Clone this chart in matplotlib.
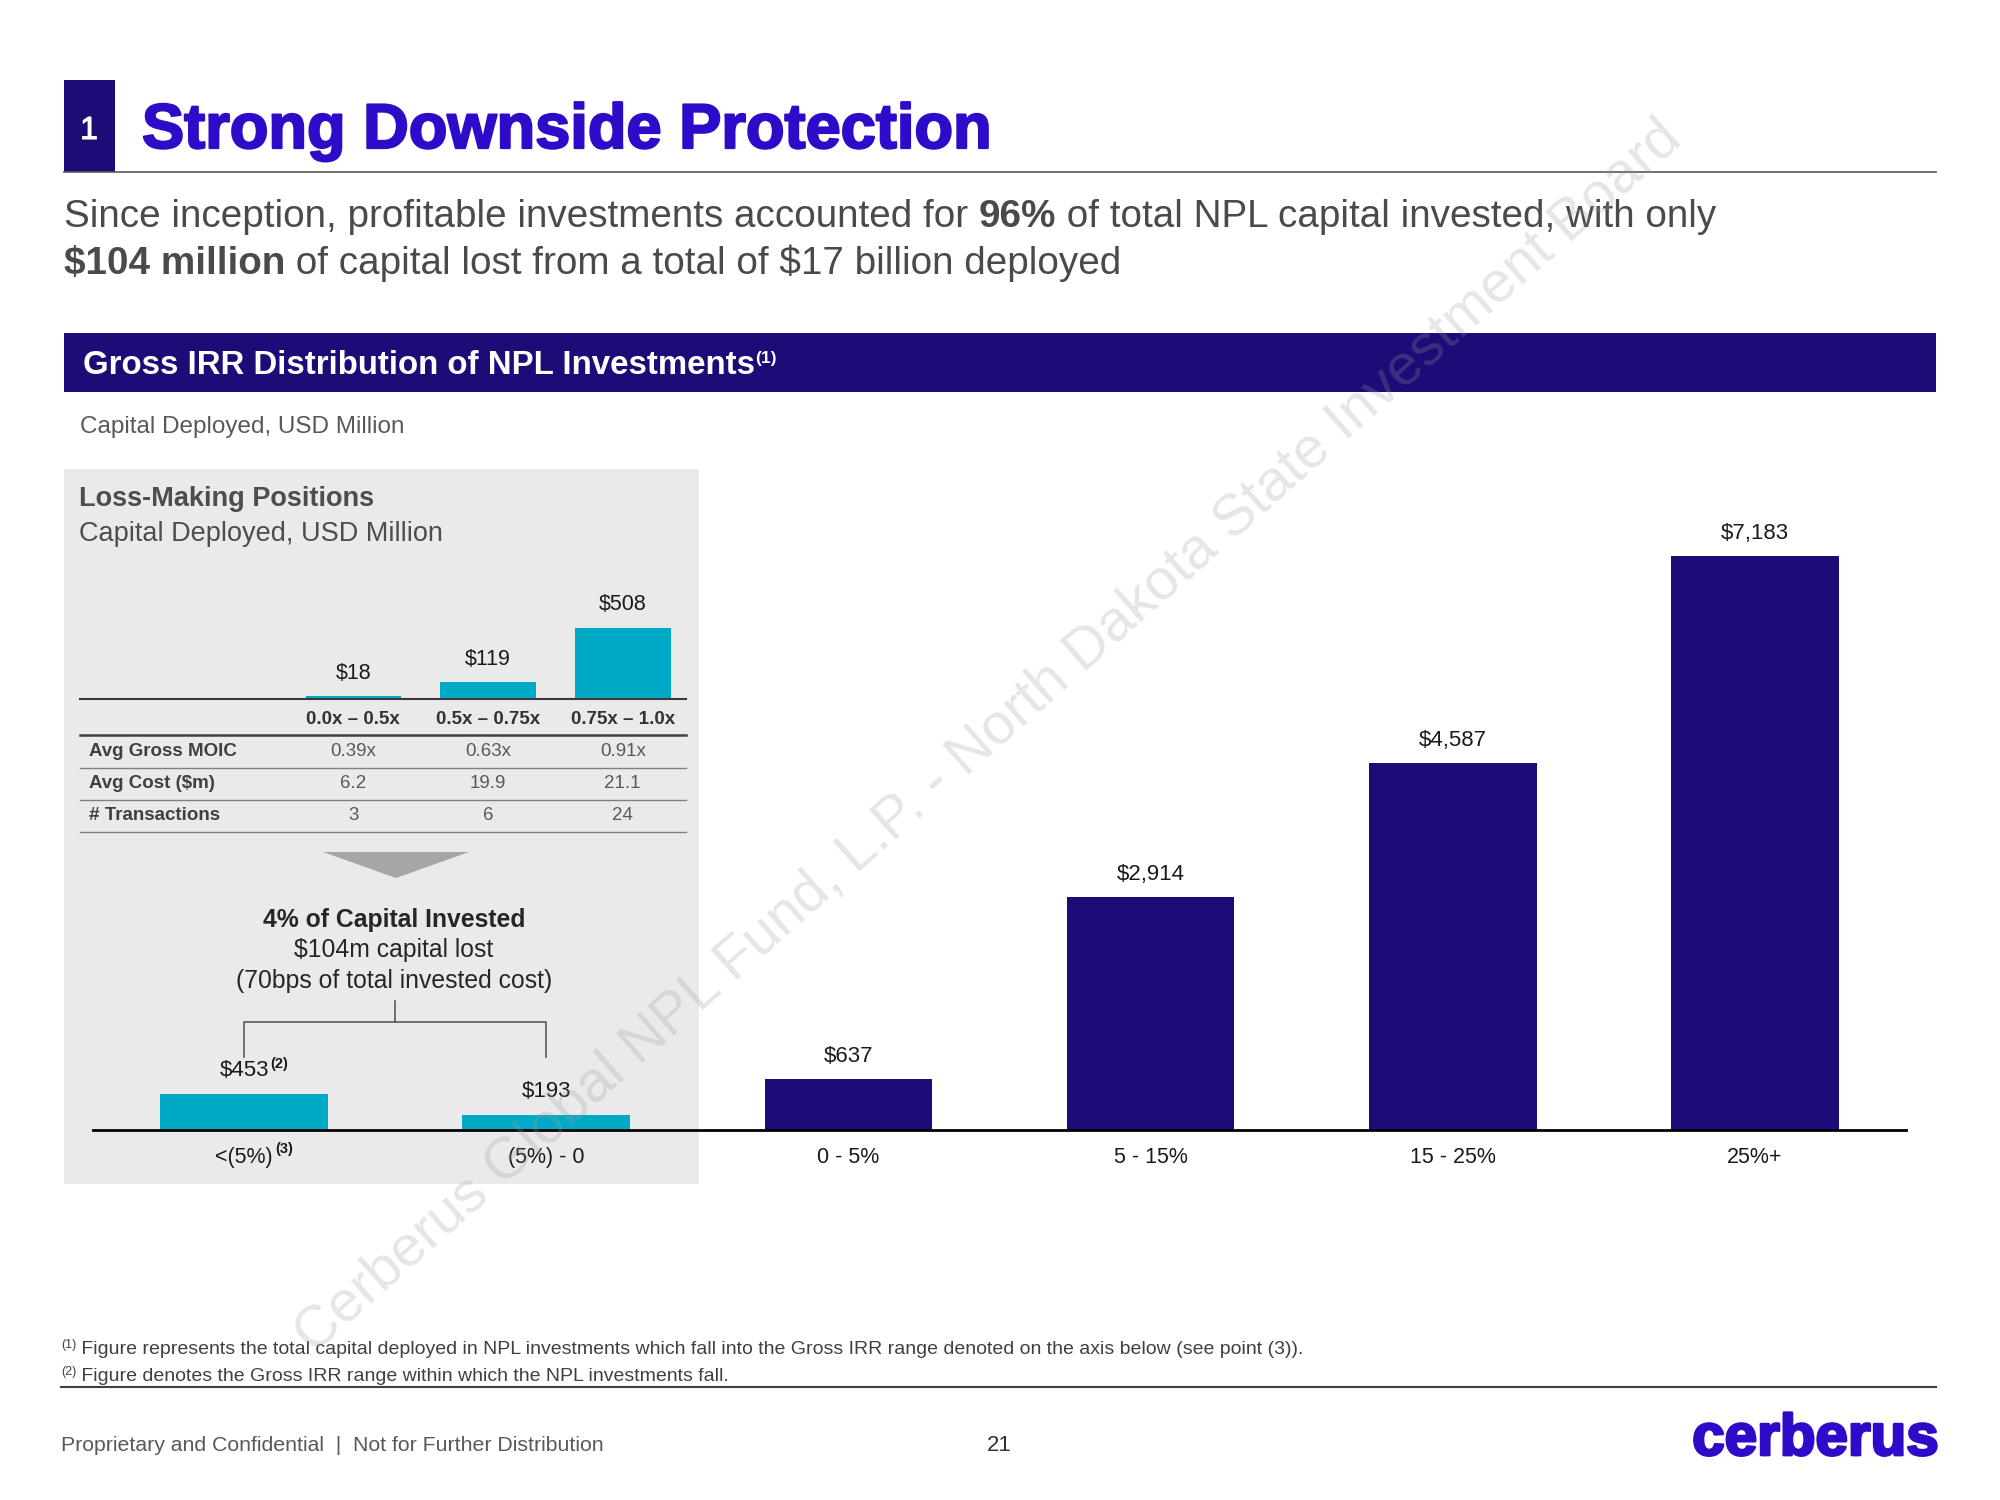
import matplotlib.pyplot as plt
import matplotlib.patheffects as pe
from matplotlib.patches import Rectangle, Polygon
from matplotlib.transforms import blended_transform_factory

plt.rcParams['font.family'] = ['Liberation Sans', 'DejaVu Sans']

NAVY = '#1B0C77'
BLUE = '#2E0BC9'
CYAN = '#00AAC6'
BOX = '#EAEAEA'
TXT = '#4A4A4A'

# main chart: capital deployed by gross IRR bucket (USD m)
irr_bins = ['<(5%)', '(5%) - 0', '0 - 5%', '5 - 15%', '15 - 25%', '25%+']
irr_capital = [453, 193, 637, 2914, 4587, 7183]
irr_is_loss = [True, True, False, False, False, False]

# inset: loss-making positions by MOIC bucket
moic_bins = ['0.0x – 0.5x', '0.5x – 0.75x', '0.75x – 1.0x']
moic_capital = [18, 119, 508]
row_labels = ['Avg Gross MOIC', 'Avg Cost ($m)', '# Transactions']
avg_moic = ['0.39x', '0.63x', '0.91x']
avg_cost = ['6.2', '19.9', '21.1']
n_trans = ['3', '6', '24']
table_rows = [avg_moic, avg_cost, n_trans]

fig = plt.figure(figsize=(20, 15), dpi=100)
bg = fig.add_axes([0, 0, 1, 1])
bg.set_xlim(0, 2000)
bg.set_ylim(1500, 0)
bg.axis('off')
R = fig.canvas.get_renderer()


def text_width(s, **kw):
    t1 = bg.text(0, 0, s + '|', parse_math=False, **kw)
    t2 = bg.text(0, 0, '|', parse_math=False, **kw)
    w = t1.get_window_extent(R).width - t2.get_window_extent(R).width
    t1.remove()
    t2.remove()
    return w


def put_runs(x, y, parts, color, base_size):
    # parts: (text, weight, size, raise_px)
    for txt, weight, size, dy in parts:
        kw = dict(fontsize=size or base_size, fontweight=weight, color=color)
        bg.text(x, y - dy, txt, va='baseline', ha='left', parse_math=False, **kw)
        x += text_width(txt, **kw)


# ---- header ----
bg.add_patch(Rectangle((64, 80), 51, 92, color=NAVY, lw=0))
bg.text(89, 139, '1', color='white', fontsize=23, ha='center', va='baseline',
        path_effects=[pe.withStroke(linewidth=0.8, foreground='white')])
bg.text(142, 148, 'Strong Downside Protection', color=BLUE, fontsize=45.5,
        fontweight='bold', va='baseline',
        path_effects=[pe.withStroke(linewidth=1.6, foreground=BLUE)])
bg.plot([64, 1936], [172, 172], color='#595959', lw=1.2)

put_runs(64, 227, [('Since inception, profitable investments accounted for ', 'normal', None, 0),
                   ('96%', 'bold', None, 0),
                   (' of total NPL capital invested, with only', 'normal', None, 0)], TXT, 27.8)
put_runs(64, 274, [('$104 million', 'bold', None, 0),
                   (' of capital lost from a total of $17 billion deployed', 'normal', None, 0)], TXT, 27.8)

bg.add_patch(Rectangle((64, 333), 1872, 59, color=NAVY, lw=0))
put_runs(83, 374, [('Gross IRR Distribution of NPL Investments', 'bold', None, 0),
                   ('(1)', 'bold', 12.5, 11)], 'white', 23.8)
bg.text(80, 433, 'Capital Deployed, USD Million', fontsize=17.5, color='#595959', va='baseline')

# ---- grey loss box ----
bg.add_patch(Rectangle((64, 469), 635, 715, color=BOX, lw=0))
bg.text(79, 506, 'Loss-Making Positions', fontsize=19.5, fontweight='bold', color='#4D4D4D',
        va='baseline')
bg.text(79, 541, 'Capital Deployed, USD Million', fontsize=19.5, color='#4D4D4D', va='baseline')

# ---- main chart ----
ax = fig.add_axes([93 / 2000, 370 / 1500, 1813 / 2000, 660 / 1500])
ax.set_facecolor('none')
xs = list(range(len(irr_bins)))
bars = ax.bar(xs, irr_capital, width=0.555,
              color=[CYAN if l else NAVY for l in irr_is_loss], zorder=2)
ax.set_xlim(-0.5, 5.5)
ax.set_ylim(0, 8260)
for s in ['top', 'right', 'left']:
    ax.spines[s].set_visible(False)
ax.spines['bottom'].set_color('black')
ax.spines['bottom'].set_linewidth(2)
ax.set_yticks([])
ax.set_xticks(xs, irr_bins, fontsize=15.5, color='#1A1A1A')
ax.tick_params(axis='x', length=0, pad=12)
ax.bar_label(bars, labels=[f'${v:,}' for v in irr_capital], padding=9,
             fontsize=16, color='#1A1A1A')
ax.annotate('(2)', xy=(0, irr_capital[0]), xytext=(26, 23), textcoords='offset pixels',
            fontsize=10.5, fontweight='bold', color='#1A1A1A', ha='left', va='bottom')
ax.annotate('(3)', xy=(0, 0), xytext=(31, -19), textcoords='offset pixels',
            fontsize=10.5, fontweight='bold', color='#1A1A1A', ha='left', va='center')

# ---- inset chart ----
ax_in = fig.add_axes([80 / 2000, 801 / 1500, 606 / 2000, 150 / 1500])
ax_in.set_facecolor('none')
mx = list(range(len(moic_bins)))
ibars = ax_in.bar(mx, moic_capital, width=0.71, color=CYAN)
ax_in.set_xlim(-2.03, 2.47)
ax_in.set_ylim(0, 1073)
for s in ['top', 'right', 'left']:
    ax_in.spines[s].set_visible(False)
ax_in.spines['bottom'].set_color('#3A3A3A')
ax_in.spines['bottom'].set_linewidth(1.5)
ax_in.set_xticks([])
ax_in.set_yticks([])
ax_in.bar_label(ibars, labels=[f'${v}' for v in moic_capital], padding=9,
                fontsize=15.5, color='#1A1A1A')

tcol = blended_transform_factory(ax_in.transData, bg.transData)
tline = blended_transform_factory(ax_in.transAxes, bg.transData)
for i, lab in enumerate(moic_bins):
    bg.text(i, 720, lab, transform=tcol, ha='center', va='center', fontsize=13.5,
            fontweight='bold', color='#333333')
bg.plot([0, 1], [735, 735], transform=tline, color='#404040', lw=1.8)
row_y = [751, 783, 815]
for lab, vals, y in zip(row_labels, table_rows, row_y):
    bg.text(89, y, lab, ha='left', va='center', fontsize=13.5, fontweight='bold',
            color='#404040', parse_math=False)
    for i, v in enumerate(vals):
        bg.text(i, y, v, transform=tcol, ha='center', va='center', fontsize=13.5,
                color='#595959')
    bg.plot([0, 1], [y + 17, y + 17], transform=tline, color='#7F7F7F', lw=1)

bg.add_patch(Polygon([[323, 852], [469, 852], [396, 878]], closed=True, color='#A6A6A6', lw=0))
bg.text(394, 920, '4% of Capital Invested', ha='center', va='center', fontsize=17.8,
        fontweight='bold', color='#262626')
bg.text(394, 950, '$104m capital lost', ha='center', va='center', fontsize=17.8,
        color='#262626', parse_math=False)
bg.text(394, 981, '(70bps of total invested cost)', ha='center', va='center', fontsize=17.8,
        color='#262626')

# bracket linking the two loss buckets
tb = blended_transform_factory(ax.transData, bg.transData)
bg.plot([0.5, 0.5], [1001, 1022], transform=tb, color='#595959', lw=1.2)
bg.plot([0, 0, 1, 1], [1057, 1022, 1022, 1057], transform=tb, color='#595959', lw=1.2)

# ---- footnotes / footer ----
put_runs(61, 1354, [('(1)', 'normal', 9, 6),
                    (' Figure represents the total capital deployed in NPL investments which fall '
                     'into the Gross IRR range denoted on the axis below (see point (3)).',
                     'normal', None, 0)], '#404040', 14)
put_runs(61, 1381, [('(2)', 'normal', 9, 6),
                    (' Figure denotes the Gross IRR range within which the NPL investments fall.',
                     'normal', None, 0)], '#404040', 14)
bg.plot([61, 1936], [1387, 1387], color='#404040', lw=1.5)
bg.text(61, 1451, 'Proprietary and Confidential  |  Not for Further Distribution',
        fontsize=15.3, color='#595959', va='baseline')
bg.text(999, 1451, '21', fontsize=16, color='#333333', ha='center', va='baseline')
bg.text(1939, 1455, 'cerberus', fontsize=42, fontweight='bold', color=BLUE,
        ha='right', va='baseline',
        path_effects=[pe.withStroke(linewidth=2, foreground=BLUE)])

# ---- watermark ----
fg = fig.add_axes([0, 0, 1, 1])
fg.set_xlim(0, 2000)
fg.set_ylim(1500, 0)
fg.axis('off')
fg.text(988, 737, 'Cerberus Global NPL Fund, L.P. - North Dakota State Investment Board',
        rotation=41.5, rotation_mode='anchor', ha='center', va='center', fontsize=41.5,
        color='#9A9A9A', alpha=0.25)

fig.savefig('out.png', dpi=100)
